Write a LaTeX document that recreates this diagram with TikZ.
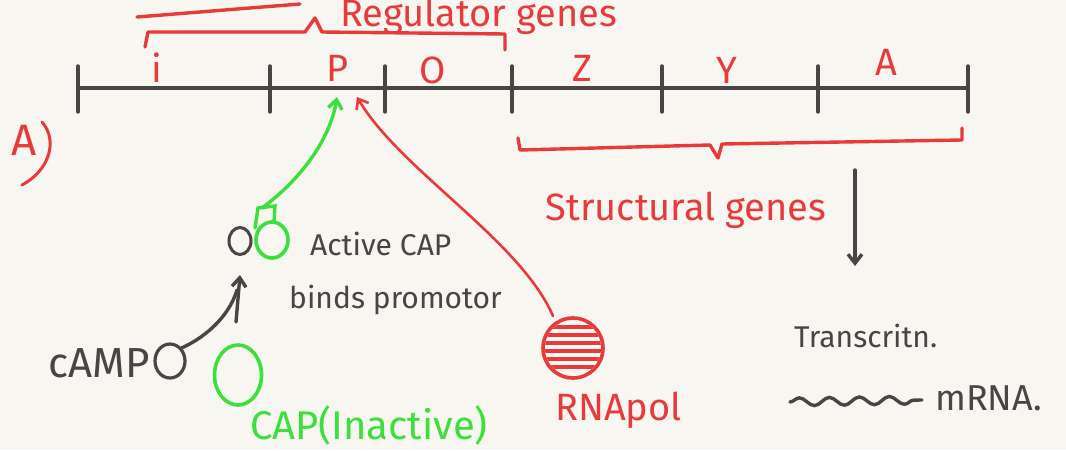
\documentclass[tikz,border=0pt]{standalone}
\usepackage{fontspec}
\setmainfont{Fira Sans}
\usetikzlibrary{arrows.meta,decorations.pathmorphing,shapes.geometric}
\definecolor{pen}{HTML}{4A4444}
\definecolor{rpen}{HTML}{E83A3A}
\definecolor{gpen}{HTML}{3CE03C}
\definecolor{paper}{HTML}{F8F6F1}
\tikzset{
  blk/.style={draw=pen,line width=3.4pt,line cap=round},
  red/.style={draw=rpen,line width=3.4pt,line cap=round,line join=round},
  grn/.style={draw=gpen,line width=3.4pt,line cap=round},
  rlab/.style={text=rpen,font=\fontsize{38}{40}\selectfont,inner sep=0pt},
  glab/.style={text=gpen,font=\fontsize{40}{42}\selectfont,inner sep=0pt},
  klab/.style={text=pen,font=\fontsize{30}{32}\selectfont,inner sep=0pt},
  arr/.style={-{Straight Barb[length=9pt,width=14pt]}},
}
\begin{document}
\begin{tikzpicture}[x=1pt,y=-1pt]
\useasboundingbox[fill=paper] (0,0) rectangle (1066,450);
% main DNA line
\coordinate (L) at (78,88);
\coordinate (R) at (968,88);
\draw[blk] (L) -- (R);
\foreach \x/\n in {78/t0,270/t1,385/t2,512/t3,662/t4,818/t5,968/t6}
  {\draw[blk] (\x,66) -- (\x,112); \coordinate (\n) at (\x,88);}
% gene labels
\node[rlab] (gi) at (157,68) {i};
\node[rlab] (gp) at (338,68) {P};
\node[rlab] (go) at (433,70) {O};
\node[rlab] (gz) at (582,68) {Z};
\node[rlab] (gy) at (727,70) {Y};
\node[rlab] (ga) at (886,62) {A};
% regulator brace
\draw[red] (145,47) -- (148,32) -- (305,32) -- (315,18) -- (322,32) -- (505,34) -- (505,50);
\draw[red] (137,17) -- (300,4);
\node[rlab,anchor=base west] (reg) at (340,26) {Regulator genes};
% structural brace
\draw[red] (518,138) -- (520,150) -- (710,145) -- (718,158) -- (722,144) -- (962,140) -- (962,128);
\node[rlab] (sg) at (686,210) {Structural genes};
% A)
\node[rlab,font=\fontsize{44}{46}\selectfont] (lab) at (24,140) {A};
\draw[red,line width=3pt] (42,122) .. controls (58,140) and (50,170) .. (22,185);
% active CAP
\node[ellipse,draw=pen,line width=3pt,minimum width=22pt,minimum height=27pt,inner sep=0pt] (camp2) at (240,241) {};
\node[ellipse,draw=gpen,line width=3.6pt,minimum width=32pt,minimum height=36pt,inner sep=0pt] (cap2) at (272,240) {};
\draw[grn] (255,228) -- (258,208) -- (275,206) -- (274,222);
\draw[grn,arr] (262,208) .. controls (300,180) and (330,140) .. (337,97);
\node[klab,anchor=west] (act) at (310,244) {Active CAP};
\node[klab,anchor=west] (bind) at (289,300) {binds promotor};
% cAMP
\node[klab,font=\fontsize{42}{44}\selectfont,anchor=east] (campt) at (150,363) {cAMP};
\node[ellipse,draw=pen,line width=3.2pt,minimum width=30pt,minimum height=34pt,inner sep=0pt] (camp) at (170,361) {};
\draw[blk] (camp.north east) .. controls (200,340) and (228,320) .. (237,290);
\draw[blk,arr] (236,322) -- (240,275);
% inactive CAP
\node[ellipse,draw=gpen,line width=3.6pt,minimum width=47pt,minimum height=60pt,inner sep=0pt] (cap) at (238,375) {};
\node[glab,anchor=west] (capt) at (250,425) {CAP(Inactive)};
% RNA pol
\node[circle,draw=rpen,line width=3.6pt,minimum size=60pt,inner sep=0pt] (pol) at (573,348) {};
\begin{scope}
\clip (573,348) circle (28);
\foreach \y in {327,335,343,351,359,367}
  \draw[rpen,line width=4.2pt] (540,\y) -- (610,\y);
\end{scope}
\draw[red,line width=2.6pt,arr] (553,316) .. controls (520,240) and (400,170) .. (357,97);
\node[rlab,anchor=west] (polt) at (555,410) {RNApol};
% transcription
\coordinate (ta) at (855,170);
\coordinate (tb) at (855,266);
\draw[blk,arr] (ta) -- (tb);
\node[klab,anchor=west] (tr) at (794,336) {Transcritn.};
\coordinate (wa) at (790,402);
\coordinate (wb) at (922,400);
\draw[blk,decorate,decoration={snake,amplitude=4pt,segment length=30pt}] (wa) -- (wb);
\node[klab,font=\fontsize{36}{38}\selectfont,anchor=west] (mr) at (935,398) {mRNA.};
\end{tikzpicture}
\end{document}
